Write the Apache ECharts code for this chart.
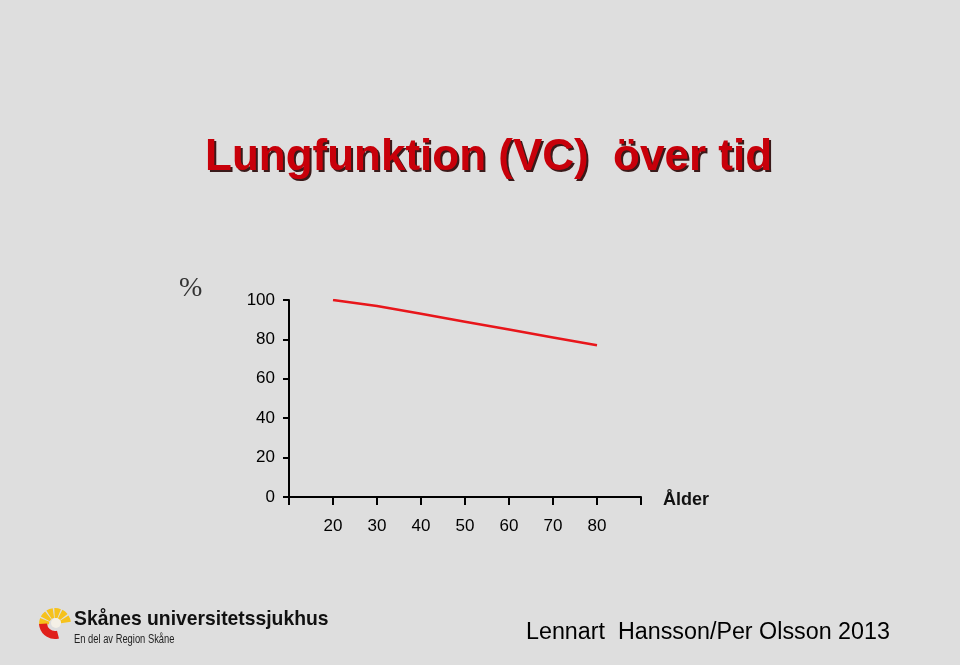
<!DOCTYPE html>
<html><head><meta charset="utf-8">
<script src="https://cdn.jsdelivr.net/npm/echarts@6/dist/echarts.min.js"></script>
<style>html,body{margin:0;padding:0;background:#dedede}#c{width:960px;height:665px}</style>
</head><body><div id="c"></div>
<script>
var ages = [20, 30, 40, 50, 60, 70, 80];
var vcPercent = [100, 97, 93, 89, 85, 81, 77];
var yTicks = [0, 20, 40, 60, 80, 100];

var chart = echarts.init(document.getElementById('c'), null, {renderer: 'canvas'});
var F = '"Liberation Sans", Arial, Helvetica, sans-serif';
var TITLE = 'Lungfunktion (VC)  över tid';

var logo = [];
var cx = 55, cy = 624;
for (var k = 0; k < 6; k++) {
  var a0 = Math.PI * (0.97 + k / 6) + 0.05;
  var a1 = Math.PI * (0.97 + (k + 1) / 6) - 0.05;
  logo.push({type: 'sector', shape: {cx: cx, cy: cy, r: 16, r0: 6, startAngle: a0, endAngle: a1}, style: {fill: '#f6c21c'}});
}
logo.push({type: 'sector', shape: {cx: cx, cy: cy - 1, r: 16, r0: 8, startAngle: Math.PI * 0.42, endAngle: Math.PI * 0.98}, style: {fill: '#e0201b'}});
logo.push({type: 'circle', shape: {cx: cx + 1, cy: cy - 1, r: 5}, style: {fill: '#f4f0e6'}});

chart.setOption({
  backgroundColor: '#dedede',
  animation: false,
  grid: {left: 289, top: 300, right: 319, bottom: 168, containLabel: false},
  xAxis: {
    type: 'value', min: 10, max: 90, interval: 10,
    axisLine: {show: true, lineStyle: {color: '#000', width: 2}},
    axisTick: {show: true, length: 8, lineStyle: {color: '#000', width: 2}},
    axisLabel: {margin: 21, fontFamily: F, fontSize: 17, color: '#000',
      formatter: function (v) { return ages.indexOf(v) >= 0 ? String(v) : ''; }},
    splitLine: {show: false}
  },
  yAxis: {
    type: 'value', min: 0, max: 100, interval: 20,
    axisLine: {show: true, lineStyle: {color: '#000', width: 2}},
    axisTick: {show: true, length: 6, lineStyle: {color: '#000', width: 2}},
    axisLabel: {margin: 14, fontFamily: F, fontSize: 17, color: '#000',
      formatter: function (v) { return yTicks.indexOf(v) >= 0 ? String(v) : ''; }},
    splitLine: {show: false}
  },
  series: [{
    type: 'line',
    data: ages.map(function (a, i) { return [a, vcPercent[i]]; }),
    showSymbol: false, symbol: 'none',
    lineStyle: {color: '#e8161b', width: 2.5},
    z: 3
  }],
  graphic: [
    {type: 'text', x: 207, y: 138, z: 9,
      style: {text: TITLE, font: 'bold 44px ' + F, fill: '#3a1a1a'}},
    {type: 'text', x: 205, y: 136, z: 10,
      style: {text: TITLE, font: 'bold 44px ' + F, fill: '#c8000a'}},
    {type: 'text', left: 179, top: 275,
      style: {text: '%', font: '28px "Liberation Serif", "DejaVu Serif", serif', fill: '#333'}},
    {type: 'text', x: 663, y: 491,
      style: {text: 'Ålder', font: 'bold 18px ' + F, fill: '#111'}},
    {type: 'group', children: logo},
    {type: 'text', x: 74, y: 609, scaleX: 0.92,
      style: {text: 'Skånes universitetssjukhus', font: 'bold 21px ' + F, fill: '#111'}},
    {type: 'text', x: 74, y: 634, scaleX: 0.78,
      style: {text: 'En del av Region Skåne', font: '12px ' + F, fill: '#222'}},
    {type: 'text', left: 526, top: 621,
      style: {text: 'Lennart  Hansson/Per Olsson 2013', font: '23.3px ' + F, fill: '#000'}}
  ]
});
</script></body></html>
